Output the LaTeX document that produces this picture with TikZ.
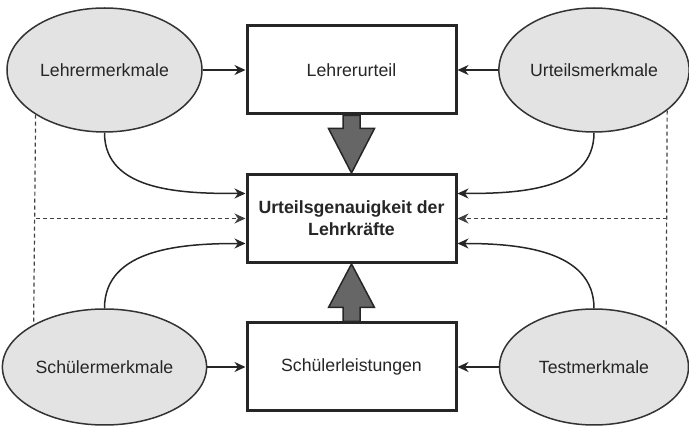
\documentclass[tikz,border=0pt]{standalone}
\usepackage{fontspec}
\setmainfont{Liberation Sans}
\usetikzlibrary{arrows.meta, calc, shapes.geometric}
\newcommand{\schrift}{\fontsize{17.7}{22}\selectfont}

\begin{document}
\begin{tikzpicture}[x=1pt, y=1pt, font=\schrift, text=black!85,
    merkmal/.style={ellipse, draw=black!80, fill=black!11, line width=1.5pt, minimum width=195pt},
    kasten/.style={rectangle, draw=black!85, fill=white, line width=3pt, minimum width=209pt, minimum height=88pt, align=center},
    pfeil/.style={-{Stealth[length=11pt, width=10pt, inset=3.5pt]}, line width=1.5pt, draw=black!85},
    strich/.style={dash pattern=on 4pt off 3pt, line width=1.2pt, draw=black!75},
    blockpfeil/.style={fill=black!60, draw=black!85, line width=1.5pt, line join=miter}]
    \useasboundingbox (0,0) rectangle (689,426);

    \node [merkmal, minimum height=124pt] (lm) at (104.5,356) {Lehrermerkmale};
    \node [kasten] (lu) at (351.5,356) {Lehrerurteil};
    \node [merkmal, minimum width=189pt, minimum height=124pt] (um) at (594,356) {Urteilsmerkmale};
    \node [kasten, font=\schrift\bfseries] (ug) at (351.5,207.5) {Urteilsgenauigkeit der\\Lehrkräfte};
    \node [kasten] (sl) at (351.5,59) {Schülerleistungen};
    \node [merkmal, minimum height=116pt] (sm) at (104.5,59) {Schülermerkmale};
    \node [merkmal, minimum width=189pt, minimum height=116pt] (tm) at (594,59) {Testmerkmale};

    \draw [pfeil] (lm) -- (lu);
    \draw [pfeil] (um) -- (lu);
    \draw [pfeil] (sm) -- (sl);
    \draw [pfeil] (tm) -- (sl);

    \draw [pfeil] (lm.south) to[out=-90, in=180] ([yshift=25pt]ug.west);
    \draw [pfeil] (um.south) to[out=-90, in=0] ([yshift=25pt]ug.east);
    \draw [pfeil] (sm.north) to[out=90, in=180] ([yshift=-25pt]ug.west);
    \draw [pfeil] (tm.north) to[out=90, in=0] ([yshift=-25pt]ug.east);

    \draw [strich] (lm.213) -- (sm.149);
    \draw [strich, -{Stealth[length=11pt, width=10pt, inset=3.5pt]}] (lm.213 |- ug.west) -- (ug.west);
    \draw [strich] (um.331) -- (tm.28);
    \draw [strich, -{Stealth[length=11pt, width=10pt, inset=3.5pt]}] (um.331 |- ug.east) -- (ug.east);

    \draw [blockpfeil] ($(lu.south)+(-8.5,0)$) -- ++(0,-13) -- ++(-14.5,0) -- (ug.north)
        -- ($(lu.south)+(23,-13)$) -- ++(-14.5,0) -- ($(lu.south)+(8.5,0)$) -- cycle;
    \draw [blockpfeil] ($(sl.north)+(-8.5,0)$) -- ++(0,14) -- ++(-14.5,0) -- (ug.south)
        -- ($(sl.north)+(23,14)$) -- ++(-14.5,0) -- ($(sl.north)+(8.5,0)$) -- cycle;
\end{tikzpicture}
\end{document}
